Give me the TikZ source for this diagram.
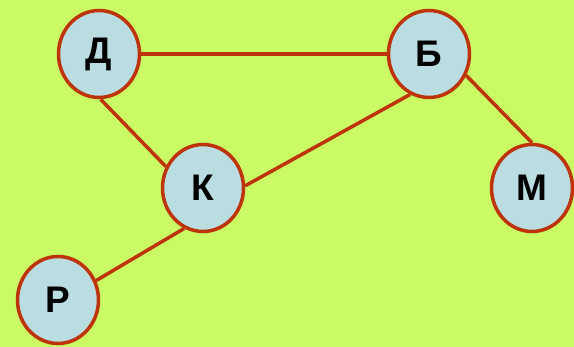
\documentclass[tikz,border=0pt]{standalone}
\usepackage{fontspec}
\setmainfont{Liberation Sans}
\usetikzlibrary{shapes.geometric}
\definecolor{bg}{RGB}{202,250,100}
\definecolor{nodefill}{RGB}{186,221,226}
\definecolor{edgecol}{RGB}{190,52,10}
\tikzset{
  vtx/.style={ellipse, draw=edgecol, line width=3.5pt, fill=nodefill, minimum width=81pt, minimum height=87pt, inner sep=0pt, font=\fontsize{37}{37}\selectfont\bfseries, text=black},
  edge/.style={draw=edgecol, line width=3.5pt}
}
\begin{document}
\begin{tikzpicture}[x=1pt,y=-1pt]
\fill[bg] (0,0) rectangle (574,347);
\useasboundingbox (0,0) rectangle (574,347);
\node[vtx] (D) at (99,54) {Д};
\node[vtx] (B) at (429,54) {Б};
\node[vtx] (K) at (203,188) {К};
\node[vtx] (M) at (532,188) {М};
\node[vtx] (R) at (58,300) {Р};
\draw[edge] (D.east) -- (B.west);
\draw[edge] (D.-88) -- (K.150);
\draw[edge] (B.-115) -- (K.3);
\draw[edge] (B.-30) -- (M.90);
\draw[edge] (K.-115) -- (R.27);
\end{tikzpicture}
\end{document}
